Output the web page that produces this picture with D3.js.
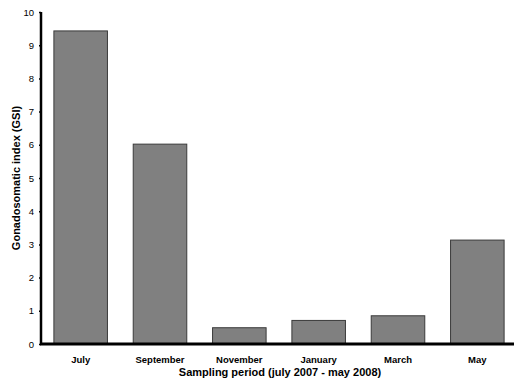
<!DOCTYPE html>
<html><head><meta charset="utf-8">
<script src="https://cdn.jsdelivr.net/npm/d3@7"></script>
<style>body{margin:0;background:#fff;} svg{display:block;}</style>
</head><body>
<script>
const categories = ["July","September","November","January","March","May"];
const gsiValues = [9.43, 6.02, 0.49, 0.71, 0.85, 3.13];
const yTicks = [0,1,2,3,4,5,6,7,8,9,10];

const W = 514, H = 382;
const svg = d3.select("body").append("svg").attr("width", W).attr("height", H)
  .style("font-family", "'Liberation Sans', Arial, sans-serif");

const x = d3.scaleBand().domain(categories).range([41, 517]).paddingInner(0.325).paddingOuter(0.1625);
const y = d3.scaleLinear().domain([0, 10]).range([344, 12]);

svg.append("g").selectAll("rect").data(categories).join("rect")
  .attr("x", d => x(d))
  .attr("y", (d, i) => y(gsiValues[i]))
  .attr("width", x.bandwidth())
  .attr("height", (d, i) => y(0) - y(gsiValues[i]))
  .attr("fill", "#808080")
  .attr("stroke", "#3a3a3a")
  .attr("stroke-width", 1);

// Y axis
const ya = svg.append("g").attr("transform", "translate(41,0)")
  .call(d3.axisLeft(y).tickValues(yTicks).tickSize(2).tickPadding(5));
ya.select(".domain").attr("stroke", "#000").attr("stroke-width", 2.5).attr("d", `M0,${y(10)}V${y(0)}`);
ya.selectAll(".tick line").attr("stroke", "#000").attr("stroke-width", 1.5);
ya.selectAll(".tick text").attr("font-size", 9.5).attr("fill", "#000")
  .style("font-family", "'Liberation Sans', Arial, sans-serif");

// X axis
const xa = svg.append("g").attr("transform", `translate(0,${y(0)})`)
  .call(d3.axisBottom(x).tickSize(0).tickPadding(12));
xa.select(".domain").attr("stroke", "#000").attr("stroke-width", 3).attr("d", `M40,0H514`);
xa.selectAll(".tick text").attr("font-size", 9.5).attr("font-weight", "bold").attr("fill", "#000")
  .style("font-family", "'Liberation Sans', Arial, sans-serif");

svg.append("text").attr("x", 280).attr("y", 376).attr("text-anchor", "middle")
  .attr("font-size", 11).attr("font-weight", "bold").text("Sampling period (july 2007 - may 2008)");

svg.append("text").attr("transform", "translate(20,178) rotate(-90)").attr("text-anchor", "middle")
  .attr("font-size", 11).attr("font-weight", "bold").text("Gonadosomatic index (GSI)");
</script>
</body></html>
